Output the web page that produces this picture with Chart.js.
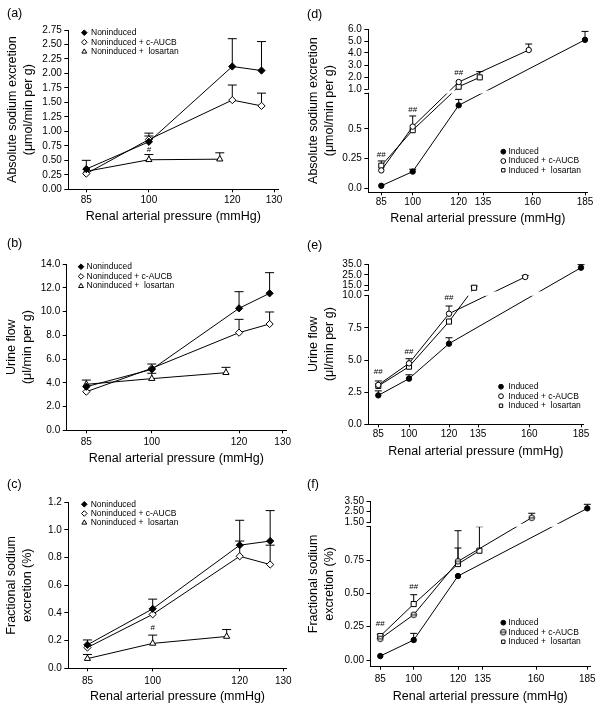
<!DOCTYPE html>
<html lang="en">
<head>
  <meta charset="UTF-8" />
  <title>Renal pressure natriuresis</title>
  <script src="https://cdn.jsdelivr.net/npm/chart.js"></script>
  <style>
    body { margin: 0; background: #fff; font-family: "Liberation Sans", Arial, sans-serif; }
    .fig { position: relative; width: 602px; height: 709px; overflow: hidden; background: #fff; }
    canvas { position: absolute; }
    .tag { position: absolute; font-size: 12.5px; line-height: 14px; color: #000; }
  </style>
</head>
<body>
  <div class="fig">
    <canvas id="ca" width="300" height="232" style="left:0;top:0"></canvas>
    <canvas id="cb" width="300" height="240" style="left:0;top:230px"></canvas>
    <canvas id="cc" width="300" height="249" style="left:0;top:460px"></canvas>
    <canvas id="cd" width="302" height="232" style="left:300px;top:0"></canvas>
    <canvas id="ce" width="302" height="240" style="left:300px;top:230px"></canvas>
    <canvas id="cf" width="302" height="249" style="left:300px;top:460px"></canvas>
    <div class="tag" style="left:7px;top:6px">(a)</div>
    <div class="tag" style="left:7px;top:236px">(b)</div>
    <div class="tag" style="left:7px;top:477px">(c)</div>
    <div class="tag" style="left:307px;top:7px">(d)</div>
    <div class="tag" style="left:307px;top:238px">(e)</div>
    <div class="tag" style="left:307px;top:477px">(f)</div>
  </div>

  <script>
    // pressures (mmHg)
    const xNon = [85, 100, 120, 127];
    const xNonLos = [85, 100, 117];
    const xInd = [85, 100, 120, 185];
    const xIndAucb = [85, 100, 120, 158];
    const xIndLos = [85, 100, 120, 133];

    // (a) absolute sodium excretion, noninduced (mean, top of error bar)
    const naNon = [0.35, 0.82, 2.12, 2.05];
    const naNonErr = [0.50, 0.92, 2.60, 2.55];
    const naAucb = [0.27, 0.86, 1.54, 1.44];
    const naAucbErr = [null, 0.97, 1.80, 1.66];
    const naLos = [0.31, 0.51, 0.52];
    const naLosErr = [null, 0.60, 0.63];

    // (b) urine flow, noninduced
    const ufNon = [3.67, 5.13, 10.27, 11.53];
    const ufNonErr = [null, null, 11.67, 13.27];
    const ufAucb = [3.25, 5.22, 8.22, 8.95];
    const ufAucbErr = [null, 5.58, 9.34, 9.96];
    const ufLos = [3.87, 4.35, 4.85];
    const ufLosErr = [4.23, 4.8, 5.3];

    // (c) fractional sodium excretion, noninduced
    const feNon = [0.17, 0.43, 0.89, 0.92];
    const feNonErr = [0.205, 0.50, 1.07, 1.14];
    const feAucb = [0.15, 0.39, 0.81, 0.75];
    const feAucbErr = [null, null, 0.92, 0.89];
    const feLos = [0.07, 0.18, 0.23];
    const feLosErr = [0.10, 0.24, 0.28];

    // (d) absolute sodium excretion, induced
    const naInd = [0.02, 0.14, 0.70, 5.1];
    const naIndErr = [null, 0.16, 0.75, 5.8];
    const naIndAucb = [0.15, 0.52, 1.58, 4.25];
    const naIndAucbErr = [null, 0.61, null, 4.75];
    const naIndLos = [0.19, 0.49, 1.19, 1.97];
    const naIndLosErr = [0.23, null, null, 2.45];

    // (e) urine flow, induced
    const ufInd = [2.25, 3.55, 6.27, 31.6];
    const ufIndErr = [2.6, 3.85, 6.73, 34.4];
    const ufIndAucb = [3.06, 4.74, 8.6, 23];
    const ufIndAucbErr = [3.37, 5.1, 9.2, 24.5];
    const ufIndLos = [2.98, 4.48, 7.99, 13.1];
    const ufIndLosErr = [null, null, null, 14.6];

    // (f) fractional sodium excretion, induced
    const feInd = [0.03, 0.15, 0.63, 2.81];
    const feIndErr = [null, 0.20, null, 3.19];
    const feIndAucb = [0.16, 0.34, 0.74, 1.93];
    const feIndAucbErr = [null, null, 0.84, 2.35];
    const feIndLos = [0.18, 0.42, 0.72, 0.82];
    const feIndLosErr = [0.19, 0.49, 0.97, 1.0];

    // significance marks [pressure, value, text]
    const notesA = [[100, 0.68, '#']];
    const notesC = [[100, 0.29, '#']];
    const notesD = [[85, 0.28, '##'], [100, 0.66, '##'], [120, 2.31, '##']];
    const notesE = [[85, 4.1, '##'], [100, 5.65, '##'], [120, 9.8, '##']];
    const notesF = [[85, 0.275, '##'], [100, 0.55, '##']];

    // ticks
    const ticksXNon = [85, 100, 120, 130];
    const ticksXInd = [85, 100, 120, 135, 160, 185];
    const ticksYA = [0, 0.25, 0.5, 0.75, 1, 1.25, 1.5, 1.75, 2, 2.25, 2.5, 2.75];
    const ticksYB = [0, 2, 4, 6, 8, 10, 12, 14];
    const ticksYC = [0, 0.2, 0.4, 0.6, 0.8, 1.0, 1.2];
    const ticksYD = [0, 0.25, 0.5, 0.8, 1, 2, 3, 4, 5, 6];
    const labelsYD = ['0.0', '0.25', '0.5', '', '1.0', '2.0', '3.0', '4.0', '5.0', '6.0'];
    const ticksYE = [0, 2.5, 5, 7.5, 10, 11, 15, 25, 35];
    const labelsYE = ['0.0', '2.5', '5.0', '7.5', '10.0', '', '15.0', '25.0', '35.0'];
    const ticksYF = [0, 0.25, 0.5, 0.75, 1, 1.5, 2.5, 3.5];
    const labelsYF = ['0.00', '0.25', '0.50', '0.75', '', '1.50', '2.50', '3.50'];

    const FONT = "'Liberation Sans', Arial, sans-serif";

    // open circle with a bar through it, used for c-AUCB in (f)
    const theta = document.createElement('canvas');
    theta.width = 8; theta.height = 8;
    (function () {
      const g = theta.getContext('2d');
      g.beginPath(); g.arc(4, 4, 2.8, 0, Math.PI * 2);
      g.fillStyle = '#fff'; g.fill();
      g.strokeStyle = '#000'; g.lineWidth = 1; g.stroke();
      g.beginPath(); g.moveTo(1.2, 4); g.lineTo(6.8, 4); g.stroke();
    })();

    // piecewise-linear axis: knots are [value, px from start]
    function toDecimal(knots, v) {
      const total = knots[knots.length - 1][1];
      for (let i = 1; i < knots.length; i++) {
        const [v0, p0] = knots[i - 1], [v1, p1] = knots[i];
        if (v <= v1 || i === knots.length - 1) {
          return (p0 + (v - v0) / (v1 - v0) * (p1 - p0)) / total;
        }
      }
    }

    class PiecewiseScale extends Chart.LinearScale {
      static id = 'piecewise';
      static defaults = {};
      determineDataLimits() {
        const k = this.options.knots;
        this.min = k[0][0];
        this.max = k[k.length - 1][0];
      }
      buildTicks() {
        return this.options.tickValues.map(v => ({ value: v }));
      }
      getPixelForValue(value) {
        return this.getPixelForDecimal(toDecimal(this.options.knots, value));
      }
      getValueForPixel(pixel) {
        const d = this.getDecimalForPixel(pixel);
        const k = this.options.knots, total = k[k.length - 1][1];
        const p = d * total;
        for (let i = 1; i < k.length; i++) {
          if (p <= k[i][1] || i === k.length - 1) {
            return k[i - 1][0] + (p - k[i - 1][1]) / (k[i][1] - k[i - 1][1]) * (k[i][0] - k[i - 1][0]);
          }
        }
      }
    }
    Chart.register(PiecewiseScale);

    // error bars, broken-axis gap, # marks, legend
    const extras = {
      id: 'extras',
      beforeDatasetsDraw(chart, args, o) {
        const { ctx, chartArea: a } = chart;
        const y = chart.scales.y;
        ctx.save();
        if (o.gap) {
          const lo = y.getPixelForValue(o.gap[0]);
          const hi = y.getPixelForValue(o.gap[1]) + 1.5;
          ctx.beginPath();
          ctx.rect(a.left - 20, a.top - 40, a.width + 40, hi - a.top + 40);
          ctx.rect(a.left - 20, lo, a.width + 40, a.bottom - lo + 40);
          ctx.clip();
        }
        ctx.strokeStyle = '#000';
        ctx.lineWidth = 1;
        chart.data.datasets.forEach((ds, i) => {
          const meta = chart.getDatasetMeta(i);
          ds.err.forEach((e, j) => {
            if (e == null) return;
            const pt = meta.data[j];
            const top = y.getPixelForValue(e);
            ctx.beginPath();
            ctx.moveTo(pt.x, pt.y);
            ctx.lineTo(pt.x, top);
            ctx.moveTo(pt.x - o.cap, top);
            ctx.lineTo(pt.x + o.cap, top);
            ctx.stroke();
          });
        });
      },
      afterDatasetsDraw(chart, args, o) {
        const { ctx, chartArea: a } = chart;
        const x = chart.scales.x, y = chart.scales.y;
        ctx.restore();

        if (o.gap) {
          const lo = y.getPixelForValue(o.gap[0]);
          const hi = y.getPixelForValue(o.gap[1]);
          ctx.fillStyle = '#fff';
          ctx.fillRect(a.left - 1.5, hi + 0.8, 3, lo - hi - 1.6);
        }

        ctx.fillStyle = '#000';
        ctx.font = '8px ' + FONT;
        ctx.textAlign = 'center';
        ctx.textBaseline = 'middle';
        o.notes.forEach(([px, v, t]) => {
          ctx.fillText(t, x.getPixelForValue(px), y.getPixelForValue(v));
        });

        const lg = o.legend;
        chart.data.datasets.forEach((ds, i) => {
          const yy = lg.y + i * lg.dy;
          ctx.fillStyle = ds.pointBackgroundColor;
          ctx.strokeStyle = '#000';
          ctx.lineWidth = 1;
          Chart.helpers.drawPoint(ctx, { pointStyle: ds.pointStyle, radius: lg.r, rotation: 0, borderWidth: 1 }, lg.x, yy);
          ctx.fillStyle = '#000';
          ctx.font = '8.5px ' + FONT;
          ctx.textAlign = 'left';
          ctx.textBaseline = 'middle';
          ctx.fillText(ds.label, lg.tx, yy);
        });
      }
    };

    function line(label, xs, ys, err, style, fill, r) {
      return {
        label: label,
        data: xs.map((v, i) => ({ x: v, y: ys[i] })),
        err: err,
        borderColor: '#000',
        borderWidth: 1,
        tension: 0,
        clip: false,
        pointStyle: style,
        pointRadius: r,
        pointBackgroundColor: fill,
        pointBorderColor: '#000',
        pointBorderWidth: 1
      };
    }

    function axisBase() {
      return {
        type: 'piecewise',
        grid: { drawOnChartArea: false, color: '#000', tickWidth: 1 },
        border: { color: '#000', width: 1 },
        ticks: { color: '#000', autoSkip: false, maxRotation: 0, minRotation: 0, font: { family: FONT, size: 10 } }
      };
    }

    function panel(id, p) {
      const c = document.getElementById(id);
      const W = c.width, H = c.height;
      const [L, T, R, B] = p.area;
      const xBox = p.titleGap + 8.4;

      const xs = axisBase();
      xs.position = 'bottom';
      xs.knots = p.xKnots;
      xs.tickValues = p.xTicks;
      xs.grid.tickLength = 3;
      xs.ticks.padding = p.xPad;
      xs.ticks.callback = v => String(v);
      xs.title = { display: true, text: 'Renal arterial pressure (mmHg)', color: '#000',
        font: { family: FONT, size: 12.5, lineHeight: 1.35 }, padding: { top: 0, bottom: 0 } };
      xs.afterFit = s => { s.height = xBox; };

      const ys = axisBase();
      ys.position = 'left';
      ys.knots = p.yKnots;
      ys.tickValues = p.yTicks;
      ys.grid.tickLength = 4;
      ys.ticks.padding = 2.5;
      ys.ticks.callback = (v, i) => p.yLabels[i];
      ys.title = { display: true, text: p.yTitle, color: '#000',
        font: { family: FONT, size: 12.5, lineHeight: 1.3 }, padding: { top: p.yTitleX - 8.1, bottom: 0 } };
      ys.afterFit = s => { s.width = L; };

      new Chart(c, {
        type: 'line',
        data: { datasets: p.datasets },
        options: {
          responsive: false,
          animation: false,
          events: [],
          layout: { padding: { left: 0, top: T, right: W - R, bottom: H - B - xBox } },
          plugins: {
            legend: { display: false },
            tooltip: { enabled: false },
            extras: { gap: p.gap || null, cap: p.cap, notes: p.notes, legend: p.legend }
          },
          scales: { x: xs, y: ys }
        },
        plugins: [extras]
      });
    }

    const nonSets = (a, aE, b, bE, c, cE) => [
      line('Noninduced', xNon, a, aE, 'rectRot', '#000', 3.6),
      line('Noninduced + c-AUCB', xNon, b, bE, 'rectRot', '#fff', 3.6),
      line('Noninduced +  losartan', xNonLos, c, cE, 'triangle', '#fff', 3.6)
    ];
    const indSets = (a, aE, b, bE, c, cE, mark) => [
      line('Induced', xInd, a, aE, 'circle', '#000', 2.7),
      line('Induced + c-AUCB', xIndAucb, b, bE, mark || 'circle', '#fff', 2.7),
      line('Induced +  losartan', xIndLos, c, cE, 'rect', '#fff', 3.6)
    ];

    const fix = n => ticks => ticks.map(v => v.toFixed(n));

    panel('ca', {
      area: [68.3, 30, 278.3, 189.3], titleGap: 27.4, xPad: 1.5, yTitleX: 12.3,
      xKnots: [[80.68, 0], [131.03, 210]], xTicks: ticksXNon,
      yKnots: [[0, 0], [2.75, 159.3]], yTicks: ticksYA, yLabels: fix(2)(ticksYA),
      yTitle: ['Absolute sodium excretion', '(μmol/min per g)'],
      datasets: nonSets(naNon, naNonErr, naAucb, naAucbErr, naLos, naLosErr),
      cap: 4.5, notes: notesA, legend: { x: 84.3, y: 32.7, dy: 9.5, tx: 91, r: 2.8 }
    });
    panel('cb', {
      area: [66.7, 34, 286, 200.3], titleGap: 28.7, xPad: 3.2, yTitleX: 11.7,
      xKnots: [[80.5, 0], [130.76, 219.3]], xTicks: ticksXNon,
      yKnots: [[0, 0], [14, 166.3]], yTicks: ticksYB, yLabels: fix(1)(ticksYB),
      yTitle: ['Urine flow', '(μl/min per g)'],
      datasets: nonSets(ufNon, ufNonErr, ufAucb, ufAucbErr, ufLos, ufLosErr),
      cap: 4.5, notes: [], legend: { x: 81, y: 36.7, dy: 9.7, tx: 86.5, r: 2.8 }
    });
    panel('cc', {
      area: [68.3, 42.3, 286.7, 208.3], titleGap: 28.4, xPad: 4.2, yTitleX: 11.7,
      xKnots: [[80.6, 0], [130.8, 218.4]], xTicks: ticksXNon,
      yKnots: [[0, 0], [1.2, 166]], yTicks: ticksYC, yLabels: fix(1)(ticksYC),
      yTitle: ['Fractional sodium', 'excretion (%)'],
      datasets: nonSets(feNon, feNonErr, feAucb, feAucbErr, feLos, feLosErr),
      cap: 4.5, notes: notesC, legend: { x: 84.3, y: 44.3, dy: 9.2, tx: 90.7, r: 2.8 }
    });
    panel('cd', {
      area: [68.3, 29, 287.3, 192.3], titleGap: 26, xPad: 1.2, yTitleX: 13.3,
      xKnots: [[78.8, 0], [85, 13], [100, 44.4], [120, 90.4], [135, 114.7], [160, 164.4], [185, 216.7], [186.1, 219]],
      xTicks: ticksXInd,
      yKnots: [[-0.035, 0], [0.8, 98.8], [1.0, 103.3], [6.0, 163.3]], yTicks: ticksYD, yLabels: labelsYD,
      yTitle: ['Absolute sodium excretion', '(μmol/min per g)'], gap: [0.8, 1.0],
      datasets: indSets(naInd, naIndErr, naIndAucb, naIndAucbErr, naIndLos, naIndLosErr),
      cap: 3.5, notes: notesD, legend: { x: 203.3, y: 151.7, dy: 9.3, tx: 208.5, r: 2.4 }
    });
    panel('ce', {
      area: [68.3, 34, 283.3, 194.3], titleGap: 27.4, xPad: 0.8, yTitleX: 13.3,
      xKnots: [[80.07, 0], [85, 10], [100, 40.7], [120, 80.7], [135, 109.7], [160, 161], [185, 212.7], [186.1, 215]],
      xTicks: ticksXInd,
      yKnots: [[0, 0], [10, 128.6], [11, 134.3], [35, 160.3]], yTicks: ticksYE, yLabels: labelsYE,
      yTitle: ['Urine flow', '(μl/min per g)'], gap: [10, 11],
      datasets: indSets(ufInd, ufIndErr, ufIndAucb, ufIndAucbErr, ufIndLos, ufIndLosErr),
      cap: 3.5, notes: notesE, legend: { x: 201, y: 156.7, dy: 9.5, tx: 208.3, r: 2.4 }
    });
    panel('cf', {
      area: [70.5, 41, 290, 206.7], titleGap: 30, xPad: 3.4, yTitleX: 13.3,
      xKnots: [[80.5, 0], [85, 9.8], [100, 43.2], [120, 87.5], [135, 112.2], [160, 165.5], [185, 216.8], [186.2, 219.5]],
      xTicks: ticksXInd,
      yKnots: [[-0.05, 0], [1.0, 140], [1.5, 144.4], [3.5, 165.7]], yTicks: ticksYF, yLabels: labelsYF,
      yTitle: ['Fractional sodium', 'excretion (%)'], gap: [1.0, 1.5],
      datasets: indSets(feInd, feIndErr, feIndAucb, feIndAucbErr, feIndLos, feIndLosErr, theta),
      cap: 3.5, notes: notesF, legend: { x: 203.3, y: 162.7, dy: 9.5, tx: 208.3, r: 2.4 }
    });
  </script>
</body>
</html>
